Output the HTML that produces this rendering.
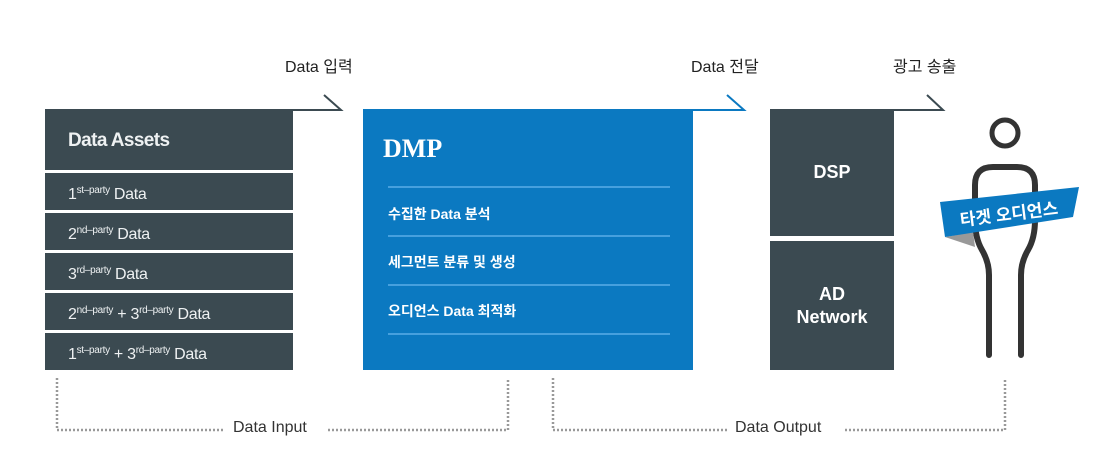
<!DOCTYPE html>
<html><head><meta charset="utf-8"><style>
body{margin:0;width:1107px;height:453px;background:#fff;position:relative;overflow:hidden;font-family:"Liberation Sans","Noto Sans CJK KR",sans-serif}
.a{position:absolute}
.d{background:#3b4a51;color:#eef1f2;left:45px;width:248px;height:37px;font-size:16px;line-height:35px;padding-left:23px;box-sizing:border-box;letter-spacing:-0.3px}
.d sup{font-size:10px;vertical-align:6px;letter-spacing:-0.3px}
.lab{font-size:16px;color:#222}
.m{color:#fff;font-weight:bold;font-size:14px;left:388px}
</style></head><body>
<div class="a lab" style="left:285px;top:53px">Data 입력</div>
<div class="a lab" style="left:691px;top:53px">Data 전달</div>
<div class="a lab" style="left:893px;top:53px">광고 송출</div>

<div class="a d" style="top:109px;height:61px;line-height:64px;font-size:19px;font-weight:bold;letter-spacing:-0.6px">Data Assets</div>
<div class="a d" style="top:173px">1<sup>st–party</sup> Data</div>
<div class="a d" style="top:213px">2<sup>nd–party</sup> Data</div>
<div class="a d" style="top:253px">3<sup>rd–party</sup> Data</div>
<div class="a d" style="top:293px">2<sup>nd–party</sup> + 3<sup>rd–party</sup> Data</div>
<div class="a d" style="top:333px">1<sup>st–party</sup> + 3<sup>rd–party</sup> Data</div>

<div class="a" style="left:363px;top:109px;width:330px;height:261px;background:#0b79c1"></div>
<div class="a" style="left:383px;top:134px;color:#fff;font-family:'Liberation Serif',serif;font-weight:bold;font-size:26px">DMP</div>
<div class="a m" style="top:204px">수집한 Data 분석</div>
<div class="a m" style="top:252px">세그먼트 분류 및 생성</div>
<div class="a m" style="top:301px">오디언스 Data 최적화</div>

<div class="a" style="left:770px;top:109px;width:124px;height:127px;background:#3b4a51;color:#fff;font-weight:bold;font-size:18px;text-align:center;line-height:127px">DSP</div>
<div class="a" style="left:770px;top:241px;width:124px;height:129px;background:#3b4a51;color:#fff;font-weight:bold;font-size:18px;text-align:center;line-height:23px;padding-top:42px;box-sizing:border-box">AD<br>Network</div>

<div class="a lab" style="left:233px;top:419px;color:#333">Data Input</div>
<div class="a lab" style="left:735px;top:419px;color:#333">Data Output</div>

<svg class="a" style="left:0;top:0" width="1107" height="453">
<g stroke="#5aaee8" stroke-width="1.5">
<line x1="388" y1="187" x2="670" y2="187"/><line x1="388" y1="236" x2="670" y2="236"/>
<line x1="388" y1="285" x2="670" y2="285"/><line x1="388" y1="334" x2="670" y2="334"/>
</g>
<polyline points="293,110 341,110 324,95" fill="none" stroke="#3b4a51" stroke-width="2"/>
<polyline points="693,110 744,110 727,95" fill="none" stroke="#0b79c1" stroke-width="2"/>
<polyline points="894,110 943,110 927,95" fill="none" stroke="#3b4a51" stroke-width="2"/>
<g fill="none" stroke="#999" stroke-width="2.5" stroke-dasharray="2 2">
<polyline points="57,378 57,430 223,430"/><polyline points="328,430 508,430 508,378"/>
<polyline points="553,378 553,430 727,430"/><polyline points="845,430 1005,430 1005,378"/>
</g>
<circle cx="1005" cy="133" r="13" fill="none" stroke="#333" stroke-width="5"/>
<path d="M989,355 L989,275 Q989,262 982,250 Q975,238 975,220 L975,185 Q975,167 993,167 L1017,167 Q1035,167 1035,185 L1035,220 Q1035,238 1028,250 Q1021,262 1021,275 L1021,355" fill="none" stroke="#333" stroke-width="6" stroke-linecap="round"/>
<polygon points="945,237 973,232 975,247" fill="#999"/>
<polygon points="940,202 1079,187 1073,217 945,237" fill="#0b79c1"/>
<text x="1009" y="220" transform="rotate(-7 1009 214)" text-anchor="middle" fill="#fff" font-weight="bold" font-size="17" font-family="Liberation Sans, Noto Sans CJK KR, sans-serif">타겟 오디언스</text>
</svg>
</body></html>
